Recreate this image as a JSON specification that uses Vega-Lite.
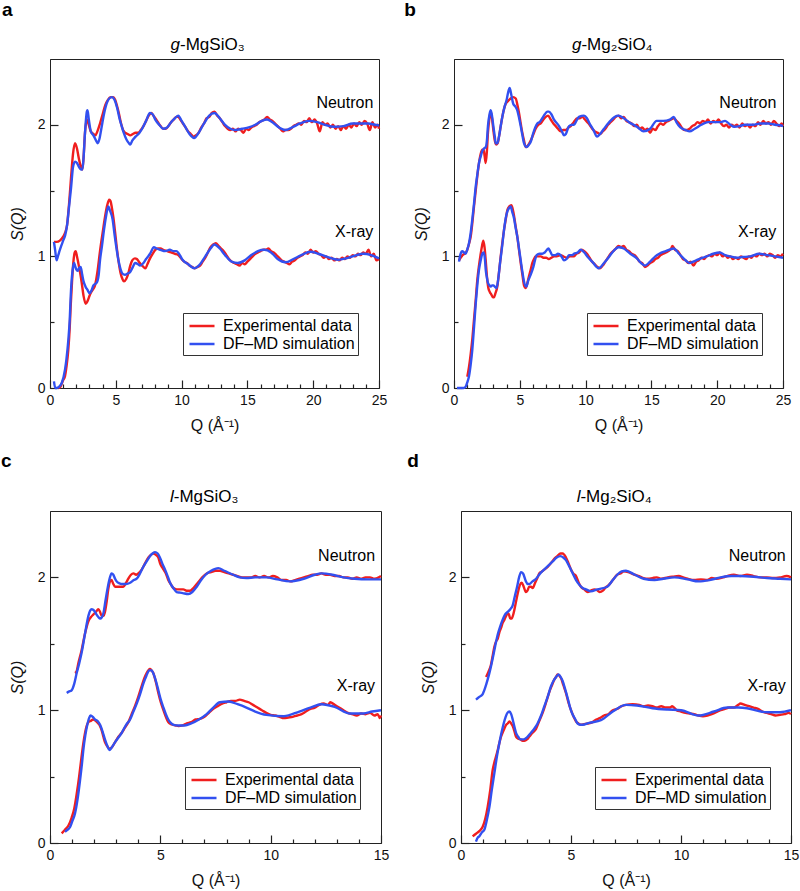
{
"$schema":"https://vega.github.io/schema/vega-lite/v6.json",
"padding":{"left":0,"top":0,"right":0,"bottom":0},
"config":{"font":"Liberation Sans","view":{"stroke":"#222","strokeWidth":1},
"legend":{"symbolType":"M-1.5,0H1.5","symbolSize":278,"symbolStrokeWidth":2.5,"symbolOffset":6,"labelFontSize":16,"labelFont":"Liberation Sans","strokeColor":"#333","fillColor":"white","padding":3,"rowPadding":0,"labelOffset":11,"labelLimit":300,"cornerRadius":0},
"axis":{"labelFont":"Liberation Sans","titleFont":"Liberation Sans","labelColor":"#111","titleColor":"#111","domainColor":"#222","tickColor":"#222","tickWidth":1.2,"grid":false}},
"datasets":{
"aNE":[{"q":0.3,"v":1.11},{"q":0.5,"v":1.11},{"q":0.75,"v":1.12},{"q":1.0,"v":1.15},{"q":1.15,"v":1.18},{"q":1.3,"v":1.24},{"q":1.45,"v":1.4},{"q":1.6,"v":1.6},{"q":1.75,"v":1.78},{"q":1.9,"v":1.86},{"q":2.05,"v":1.82},{"q":2.2,"v":1.74},{"q":2.35,"v":1.68},{"q":2.46,"v":1.66},{"q":2.55,"v":1.75},{"q":2.66,"v":1.94},{"q":2.8,"v":2.04},{"q":2.95,"v":2.0},{"q":3.1,"v":1.95},{"q":3.3,"v":1.93},{"q":3.45,"v":1.92},{"q":3.6,"v":1.95},{"q":3.8,"v":2.01},{"q":4.0,"v":2.08},{"q":4.2,"v":2.15},{"q":4.4,"v":2.19},{"q":4.6,"v":2.21},{"q":4.8,"v":2.21},{"q":4.95,"v":2.19},{"q":5.1,"v":2.14},{"q":5.25,"v":2.08},{"q":5.4,"v":2.01},{"q":5.55,"v":1.96},{"q":5.7,"v":1.94},{"q":5.9,"v":1.93},{"q":6.1,"v":1.92},{"q":6.3,"v":1.93},{"q":6.5,"v":1.94},{"q":6.7,"v":1.94},{"q":6.9,"v":1.96},{"q":7.1,"v":1.99},{"q":7.3,"v":2.03},{"q":7.5,"v":2.07},{"q":7.7,"v":2.09},{"q":7.85,"v":2.07},{"q":8.0,"v":2.05},{"q":8.2,"v":2.02},{"q":8.4,"v":1.99},{"q":8.6,"v":1.97},{"q":8.8,"v":1.97},{"q":9.0,"v":1.99},{"q":9.2,"v":2.02},{"q":9.4,"v":2.04},{"q":9.6,"v":2.06},{"q":9.75,"v":2.06},{"q":9.9,"v":2.04},{"q":10.1,"v":2.01},{"q":10.3,"v":1.98},{"q":10.5,"v":1.95},{"q":10.7,"v":1.93},{"q":10.9,"v":1.91},{"q":11.1,"v":1.92},{"q":11.3,"v":1.94},{"q":11.5,"v":1.98},{"q":11.7,"v":2.01},{"q":11.9,"v":2.05},{"q":12.1,"v":2.06},{"q":12.3,"v":2.09},{"q":12.5,"v":2.1},{"q":12.7,"v":2.07},{"q":12.9,"v":2.05},{"q":13.1,"v":2.02},{"q":13.3,"v":1.99},{"q":13.5,"v":1.97},{"q":13.7,"v":1.96},{"q":13.9,"v":1.97},{"q":14.1,"v":1.95},{"q":14.3,"v":1.97},{"q":14.5,"v":1.96},{"q":14.7,"v":1.94},{"q":14.9,"v":1.97},{"q":15.1,"v":1.96},{"q":15.3,"v":1.98},{"q":15.5,"v":1.99},{"q":15.7,"v":2.0},{"q":15.9,"v":2.02},{"q":16.1,"v":2.03},{"q":16.3,"v":2.04},{"q":16.5,"v":2.06},{"q":16.7,"v":2.04},{"q":16.9,"v":2.03},{"q":17.1,"v":2.01},{"q":17.3,"v":1.99},{"q":17.5,"v":1.97},{"q":17.7,"v":1.95},{"q":17.9,"v":1.96},{"q":18.1,"v":1.96},{"q":18.3,"v":1.97},{"q":18.5,"v":1.99},{"q":18.7,"v":2.0},{"q":18.9,"v":2.01},{"q":19.1,"v":2.0},{"q":19.3,"v":2.03},{"q":19.5,"v":2.02},{"q":19.7,"v":2.05},{"q":19.9,"v":2.02},{"q":20.1,"v":2.04},{"q":20.3,"v":2.01},{"q":20.5,"v":1.95},{"q":20.7,"v":2.02},{"q":20.9,"v":2.0},{"q":21.1,"v":2.01},{"q":21.3,"v":1.98},{"q":21.5,"v":2.0},{"q":21.7,"v":1.97},{"q":21.9,"v":1.99},{"q":22.1,"v":1.96},{"q":22.3,"v":1.99},{"q":22.5,"v":1.97},{"q":22.7,"v":2.0},{"q":22.9,"v":1.98},{"q":23.1,"v":2.01},{"q":23.3,"v":1.99},{"q":23.5,"v":2.02},{"q":23.7,"v":2.0},{"q":23.9,"v":2.03},{"q":24.1,"v":2.01},{"q":24.3,"v":1.96},{"q":24.5,"v":2.02},{"q":24.7,"v":1.98},{"q":24.9,"v":2.0},{"q":25.0,"v":1.97}],
"aNS":[{"q":0.3,"v":1.11},{"q":0.4,"v":1.04},{"q":0.5,"v":0.97},{"q":0.6,"v":1.0},{"q":0.75,"v":1.05},{"q":1.0,"v":1.12},{"q":1.15,"v":1.16},{"q":1.3,"v":1.24},{"q":1.45,"v":1.38},{"q":1.6,"v":1.52},{"q":1.75,"v":1.68},{"q":1.9,"v":1.72},{"q":2.05,"v":1.71},{"q":2.2,"v":1.68},{"q":2.35,"v":1.66},{"q":2.46,"v":1.66},{"q":2.55,"v":1.75},{"q":2.66,"v":1.94},{"q":2.8,"v":2.1},{"q":2.85,"v":2.11},{"q":2.95,"v":2.04},{"q":3.1,"v":1.95},{"q":3.3,"v":1.92},{"q":3.5,"v":1.88},{"q":3.62,"v":1.86},{"q":3.75,"v":1.89},{"q":3.9,"v":1.97},{"q":4.1,"v":2.08},{"q":4.3,"v":2.16},{"q":4.5,"v":2.2},{"q":4.7,"v":2.21},{"q":4.9,"v":2.19},{"q":5.1,"v":2.13},{"q":5.3,"v":2.04},{"q":5.45,"v":1.99},{"q":5.6,"v":1.94},{"q":5.8,"v":1.89},{"q":6.0,"v":1.86},{"q":6.1,"v":1.85},{"q":6.25,"v":1.88},{"q":6.5,"v":1.91},{"q":6.8,"v":1.94},{"q":7.0,"v":1.97},{"q":7.3,"v":2.03},{"q":7.6,"v":2.09},{"q":7.8,"v":2.08},{"q":8.0,"v":2.04},{"q":8.3,"v":2.0},{"q":8.6,"v":1.97},{"q":8.9,"v":1.98},{"q":9.2,"v":2.02},{"q":9.5,"v":2.05},{"q":9.75,"v":2.07},{"q":10.0,"v":2.03},{"q":10.3,"v":1.98},{"q":10.6,"v":1.93},{"q":10.95,"v":1.9},{"q":11.3,"v":1.94},{"q":11.7,"v":2.01},{"q":12.1,"v":2.07},{"q":12.5,"v":2.09},{"q":12.9,"v":2.05},{"q":13.3,"v":2.0},{"q":13.7,"v":1.97},{"q":14.1,"v":1.96},{"q":14.6,"v":1.97},{"q":15.1,"v":1.98},{"q":15.6,"v":2.0},{"q":16.1,"v":2.03},{"q":16.5,"v":2.04},{"q":16.9,"v":2.02},{"q":17.4,"v":1.98},{"q":17.9,"v":1.96},{"q":18.4,"v":1.98},{"q":19.0,"v":2.01},{"q":19.7,"v":2.03},{"q":20.3,"v":2.02},{"q":20.9,"v":2.0},{"q":21.6,"v":1.985},{"q":22.3,"v":1.99},{"q":23.0,"v":2.01},{"q":23.6,"v":2.01},{"q":24.2,"v":2.01},{"q":24.7,"v":2.0},{"q":25.0,"v":1.995}],
"aXE":[{"q":0.63,"v":0.0},{"q":0.8,"v":0.01},{"q":0.9,"v":0.035},{"q":1.0,"v":0.06},{"q":1.14,"v":0.09},{"q":1.25,"v":0.16},{"q":1.39,"v":0.29},{"q":1.5,"v":0.46},{"q":1.57,"v":0.62},{"q":1.67,"v":0.8},{"q":1.77,"v":0.95},{"q":1.88,"v":1.03},{"q":1.95,"v":1.04},{"q":2.05,"v":1.0},{"q":2.15,"v":0.95},{"q":2.3,"v":0.87},{"q":2.41,"v":0.8},{"q":2.55,"v":0.7},{"q":2.71,"v":0.64},{"q":2.85,"v":0.66},{"q":3.04,"v":0.71},{"q":3.2,"v":0.74},{"q":3.42,"v":0.78},{"q":3.6,"v":0.88},{"q":3.8,"v":1.04},{"q":4.0,"v":1.18},{"q":4.18,"v":1.3},{"q":4.35,"v":1.39},{"q":4.5,"v":1.43},{"q":4.6,"v":1.42},{"q":4.7,"v":1.37},{"q":4.81,"v":1.3},{"q":4.95,"v":1.18},{"q":5.07,"v":1.07},{"q":5.2,"v":0.97},{"q":5.37,"v":0.87},{"q":5.5,"v":0.83},{"q":5.62,"v":0.81},{"q":5.8,"v":0.83},{"q":5.95,"v":0.87},{"q":6.1,"v":0.93},{"q":6.25,"v":0.97},{"q":6.45,"v":0.985},{"q":6.6,"v":0.98},{"q":6.75,"v":0.96},{"q":6.9,"v":0.94},{"q":7.1,"v":0.92},{"q":7.25,"v":0.91},{"q":7.4,"v":0.94},{"q":7.6,"v":0.985},{"q":7.8,"v":1.02},{"q":8.0,"v":1.05},{"q":8.2,"v":1.06},{"q":8.4,"v":1.06},{"q":8.6,"v":1.05},{"q":8.9,"v":1.04},{"q":9.2,"v":1.03},{"q":9.5,"v":1.02},{"q":9.75,"v":1.01},{"q":10.0,"v":0.98},{"q":10.2,"v":0.96},{"q":10.4,"v":0.95},{"q":10.6,"v":0.93},{"q":10.8,"v":0.92},{"q":11.0,"v":0.91},{"q":11.2,"v":0.92},{"q":11.4,"v":0.93},{"q":11.6,"v":0.96},{"q":11.8,"v":0.99},{"q":12.0,"v":1.03},{"q":12.2,"v":1.07},{"q":12.4,"v":1.09},{"q":12.6,"v":1.1},{"q":12.8,"v":1.08},{"q":13.0,"v":1.06},{"q":13.2,"v":1.04},{"q":13.4,"v":1.01},{"q":13.6,"v":0.98},{"q":13.8,"v":0.96},{"q":14.0,"v":0.95},{"q":14.2,"v":0.94},{"q":14.4,"v":0.93},{"q":14.6,"v":0.95},{"q":14.8,"v":0.94},{"q":15.0,"v":0.96},{"q":15.2,"v":0.98},{"q":15.4,"v":1.0},{"q":15.6,"v":1.02},{"q":15.8,"v":1.03},{"q":16.0,"v":1.04},{"q":16.2,"v":1.05},{"q":16.4,"v":1.05},{"q":16.6,"v":1.06},{"q":16.8,"v":1.04},{"q":17.0,"v":1.03},{"q":17.2,"v":1.01},{"q":17.4,"v":0.99},{"q":17.6,"v":0.97},{"q":17.8,"v":0.96},{"q":18.0,"v":0.95},{"q":18.2,"v":0.94},{"q":18.4,"v":0.96},{"q":18.6,"v":0.97},{"q":18.8,"v":0.99},{"q":19.0,"v":1.0},{"q":19.2,"v":1.01},{"q":19.4,"v":1.03},{"q":19.6,"v":1.02},{"q":19.8,"v":1.05},{"q":20.0,"v":1.03},{"q":20.2,"v":1.04},{"q":20.4,"v":1.02},{"q":20.6,"v":1.01},{"q":20.8,"v":0.99},{"q":21.0,"v":1.0},{"q":21.2,"v":0.98},{"q":21.4,"v":0.99},{"q":21.6,"v":0.97},{"q":21.8,"v":0.98},{"q":22.0,"v":0.97},{"q":22.2,"v":0.99},{"q":22.4,"v":0.98},{"q":22.6,"v":1.0},{"q":22.8,"v":0.99},{"q":23.0,"v":1.01},{"q":23.2,"v":1.0},{"q":23.4,"v":1.02},{"q":23.6,"v":1.01},{"q":23.8,"v":1.03},{"q":24.0,"v":1.02},{"q":24.2,"v":1.05},{"q":24.4,"v":1.0},{"q":24.6,"v":1.02},{"q":24.8,"v":0.97},{"q":25.0,"v":0.98}],
"aXS":[{"q":0.3,"v":0.05},{"q":0.4,"v":0.0},{"q":0.5,"v":0.0},{"q":0.7,"v":0.01},{"q":0.9,"v":0.04},{"q":1.14,"v":0.14},{"q":1.25,"v":0.22},{"q":1.39,"v":0.36},{"q":1.5,"v":0.52},{"q":1.57,"v":0.69},{"q":1.67,"v":0.85},{"q":1.77,"v":0.93},{"q":1.83,"v":0.95},{"q":1.9,"v":0.93},{"q":2.0,"v":0.9},{"q":2.1,"v":0.89},{"q":2.2,"v":0.91},{"q":2.33,"v":0.92},{"q":2.45,"v":0.86},{"q":2.55,"v":0.81},{"q":2.7,"v":0.77},{"q":2.85,"v":0.745},{"q":3.0,"v":0.72},{"q":3.15,"v":0.74},{"q":3.3,"v":0.78},{"q":3.55,"v":0.8},{"q":3.7,"v":0.86},{"q":3.8,"v":0.97},{"q":3.95,"v":1.08},{"q":4.1,"v":1.2},{"q":4.25,"v":1.3},{"q":4.43,"v":1.38},{"q":4.55,"v":1.35},{"q":4.76,"v":1.28},{"q":4.9,"v":1.17},{"q":5.07,"v":1.05},{"q":5.2,"v":0.97},{"q":5.37,"v":0.9},{"q":5.5,"v":0.87},{"q":5.7,"v":0.86},{"q":5.9,"v":0.87},{"q":6.08,"v":0.88},{"q":6.3,"v":0.92},{"q":6.46,"v":0.95},{"q":6.7,"v":0.94},{"q":6.84,"v":0.93},{"q":7.1,"v":0.95},{"q":7.3,"v":0.98},{"q":7.6,"v":1.02},{"q":7.9,"v":1.07},{"q":8.1,"v":1.06},{"q":8.4,"v":1.05},{"q":8.75,"v":1.04},{"q":9.1,"v":1.05},{"q":9.4,"v":1.04},{"q":9.6,"v":1.04},{"q":9.8,"v":1.02},{"q":10.1,"v":0.97},{"q":10.5,"v":0.94},{"q":10.97,"v":0.91},{"q":11.4,"v":0.94},{"q":11.8,"v":1.0},{"q":12.2,"v":1.06},{"q":12.49,"v":1.09},{"q":12.9,"v":1.06},{"q":13.3,"v":1.01},{"q":13.8,"v":0.96},{"q":14.26,"v":0.95},{"q":14.8,"v":0.97},{"q":15.3,"v":1.01},{"q":15.8,"v":1.04},{"q":16.3,"v":1.05},{"q":16.8,"v":1.03},{"q":17.3,"v":0.98},{"q":17.9,"v":0.955},{"q":18.5,"v":0.98},{"q":19.1,"v":1.01},{"q":19.8,"v":1.035},{"q":20.4,"v":1.02},{"q":21.1,"v":0.995},{"q":21.9,"v":0.975},{"q":22.7,"v":0.99},{"q":23.3,"v":1.01},{"q":23.8,"v":1.02},{"q":24.4,"v":1.01},{"q":25.0,"v":0.985}],
"bNE":[{"q":0.38,"v":0.97},{"q":0.5,"v":0.99},{"q":0.65,"v":1.01},{"q":0.8,"v":1.02},{"q":1.01,"v":1.05},{"q":1.15,"v":1.1},{"q":1.27,"v":1.15},{"q":1.4,"v":1.26},{"q":1.52,"v":1.38},{"q":1.65,"v":1.5},{"q":1.77,"v":1.61},{"q":1.9,"v":1.71},{"q":2.03,"v":1.78},{"q":2.15,"v":1.81},{"q":2.25,"v":1.81},{"q":2.33,"v":1.76},{"q":2.41,"v":1.71},{"q":2.5,"v":1.8},{"q":2.58,"v":1.94},{"q":2.68,"v":2.04},{"q":2.79,"v":2.1},{"q":2.9,"v":2.04},{"q":2.99,"v":1.96},{"q":3.1,"v":1.88},{"q":3.2,"v":1.85},{"q":3.32,"v":1.86},{"q":3.42,"v":1.91},{"q":3.55,"v":1.99},{"q":3.67,"v":2.06},{"q":3.8,"v":2.12},{"q":3.93,"v":2.16},{"q":4.1,"v":2.18},{"q":4.3,"v":2.2},{"q":4.5,"v":2.21},{"q":4.69,"v":2.2},{"q":4.82,"v":2.15},{"q":4.94,"v":2.09},{"q":5.07,"v":2.01},{"q":5.19,"v":1.94},{"q":5.32,"v":1.88},{"q":5.45,"v":1.83},{"q":5.6,"v":1.84},{"q":5.83,"v":1.88},{"q":6.0,"v":1.92},{"q":6.2,"v":1.97},{"q":6.4,"v":2.0},{"q":6.59,"v":2.01},{"q":6.8,"v":2.04},{"q":6.97,"v":2.06},{"q":7.15,"v":2.07},{"q":7.35,"v":2.04},{"q":7.55,"v":2.01},{"q":7.73,"v":1.99},{"q":7.9,"v":1.97},{"q":8.1,"v":1.95},{"q":8.3,"v":1.96},{"q":8.49,"v":1.96},{"q":8.7,"v":1.98},{"q":8.87,"v":1.99},{"q":9.1,"v":2.02},{"q":9.37,"v":2.05},{"q":9.55,"v":2.05},{"q":9.75,"v":2.06},{"q":9.95,"v":2.04},{"q":10.13,"v":2.02},{"q":10.3,"v":2.0},{"q":10.5,"v":1.97},{"q":10.7,"v":1.95},{"q":10.9,"v":1.94},{"q":11.1,"v":1.93},{"q":11.3,"v":1.95},{"q":11.5,"v":1.97},{"q":11.7,"v":2.0},{"q":11.9,"v":2.02},{"q":12.1,"v":2.04},{"q":12.3,"v":2.06},{"q":12.5,"v":2.07},{"q":12.7,"v":2.05},{"q":12.9,"v":2.06},{"q":13.1,"v":2.03},{"q":13.3,"v":2.02},{"q":13.5,"v":2.01},{"q":13.7,"v":1.99},{"q":13.9,"v":2.0},{"q":14.1,"v":1.97},{"q":14.3,"v":1.98},{"q":14.5,"v":1.96},{"q":14.7,"v":1.97},{"q":14.9,"v":1.94},{"q":15.1,"v":1.97},{"q":15.3,"v":1.96},{"q":15.5,"v":1.99},{"q":15.7,"v":2.01},{"q":15.9,"v":2.0},{"q":16.1,"v":2.02},{"q":16.3,"v":2.03},{"q":16.5,"v":2.04},{"q":16.7,"v":2.05},{"q":16.9,"v":2.03},{"q":17.1,"v":2.01},{"q":17.3,"v":1.98},{"q":17.5,"v":1.96},{"q":17.7,"v":1.96},{"q":17.9,"v":1.97},{"q":18.1,"v":1.99},{"q":18.3,"v":2.0},{"q":18.5,"v":2.02},{"q":18.7,"v":2.01},{"q":18.9,"v":2.03},{"q":19.1,"v":2.02},{"q":19.3,"v":2.04},{"q":19.5,"v":2.01},{"q":19.7,"v":2.03},{"q":19.9,"v":2.02},{"q":20.1,"v":2.04},{"q":20.3,"v":2.01},{"q":20.5,"v":1.99},{"q":20.7,"v":2.0},{"q":20.9,"v":1.98},{"q":21.1,"v":2.0},{"q":21.3,"v":1.99},{"q":21.5,"v":2.0},{"q":21.7,"v":1.98},{"q":21.9,"v":2.01},{"q":22.1,"v":1.99},{"q":22.3,"v":2.0},{"q":22.5,"v":1.98},{"q":22.7,"v":2.0},{"q":22.9,"v":1.99},{"q":23.1,"v":2.02},{"q":23.3,"v":2.0},{"q":23.5,"v":2.03},{"q":23.7,"v":2.01},{"q":23.9,"v":2.02},{"q":24.1,"v":2.0},{"q":24.3,"v":2.03},{"q":24.5,"v":2.01},{"q":24.7,"v":1.99},{"q":24.9,"v":2.01},{"q":25.0,"v":1.99}],
"bNS":[{"q":0.38,"v":0.96},{"q":0.5,"v":1.02},{"q":0.63,"v":1.04},{"q":0.76,"v":1.03},{"q":0.89,"v":1.02},{"q":1.0,"v":1.05},{"q":1.14,"v":1.1},{"q":1.27,"v":1.18},{"q":1.39,"v":1.28},{"q":1.52,"v":1.4},{"q":1.65,"v":1.53},{"q":1.77,"v":1.62},{"q":1.9,"v":1.71},{"q":2.03,"v":1.76},{"q":2.15,"v":1.8},{"q":2.28,"v":1.82},{"q":2.41,"v":1.83},{"q":2.5,"v":1.88},{"q":2.58,"v":1.99},{"q":2.7,"v":2.08},{"q":2.79,"v":2.11},{"q":2.9,"v":2.06},{"q":2.99,"v":1.99},{"q":3.1,"v":1.91},{"q":3.17,"v":1.86},{"q":3.3,"v":1.86},{"q":3.42,"v":1.91},{"q":3.55,"v":1.99},{"q":3.67,"v":2.06},{"q":3.85,"v":2.14},{"q":4.0,"v":2.19},{"q":4.1,"v":2.24},{"q":4.23,"v":2.28},{"q":4.35,"v":2.23},{"q":4.5,"v":2.16},{"q":4.65,"v":2.14},{"q":4.81,"v":2.11},{"q":4.95,"v":2.05},{"q":5.07,"v":1.99},{"q":5.2,"v":1.92},{"q":5.32,"v":1.86},{"q":5.52,"v":1.83},{"q":5.7,"v":1.85},{"q":5.83,"v":1.87},{"q":6.0,"v":1.93},{"q":6.33,"v":2.01},{"q":6.5,"v":2.02},{"q":6.71,"v":2.05},{"q":6.9,"v":2.08},{"q":7.1,"v":2.1},{"q":7.22,"v":2.1},{"q":7.4,"v":2.08},{"q":7.6,"v":2.04},{"q":7.98,"v":1.99},{"q":8.2,"v":1.95},{"q":8.36,"v":1.92},{"q":8.5,"v":1.93},{"q":8.74,"v":1.99},{"q":9.0,"v":2.0},{"q":9.12,"v":2.0},{"q":9.3,"v":2.03},{"q":9.5,"v":2.06},{"q":9.88,"v":2.07},{"q":10.1,"v":2.05},{"q":10.3,"v":2.01},{"q":10.6,"v":1.96},{"q":10.87,"v":1.91},{"q":11.1,"v":1.93},{"q":11.4,"v":1.97},{"q":11.8,"v":2.02},{"q":12.2,"v":2.06},{"q":12.5,"v":2.07},{"q":12.9,"v":2.05},{"q":13.3,"v":2.02},{"q":13.9,"v":1.985},{"q":14.4,"v":1.95},{"q":14.9,"v":1.97},{"q":15.4,"v":2.03},{"q":15.9,"v":2.03},{"q":16.4,"v":2.04},{"q":16.7,"v":2.06},{"q":16.9,"v":2.02},{"q":17.2,"v":1.98},{"q":17.6,"v":1.96},{"q":17.9,"v":1.95},{"q":18.3,"v":1.97},{"q":18.8,"v":2.0},{"q":19.3,"v":2.02},{"q":19.7,"v":2.02},{"q":20.2,"v":2.02},{"q":20.6,"v":2.03},{"q":21.0,"v":2.0},{"q":21.3,"v":1.985},{"q":21.7,"v":1.99},{"q":22.1,"v":2.0},{"q":22.7,"v":2.0},{"q":23.3,"v":2.01},{"q":23.9,"v":2.01},{"q":24.4,"v":2.0},{"q":24.85,"v":1.995},{"q":25.0,"v":1.99}],
"bXE":[{"q":1.01,"v":0.086},{"q":1.14,"v":0.16},{"q":1.27,"v":0.26},{"q":1.4,"v":0.38},{"q":1.52,"v":0.52},{"q":1.65,"v":0.67},{"q":1.77,"v":0.82},{"q":1.9,"v":0.93},{"q":2.03,"v":1.02},{"q":2.13,"v":1.08},{"q":2.23,"v":1.12},{"q":2.32,"v":1.07},{"q":2.41,"v":0.97},{"q":2.5,"v":0.85},{"q":2.61,"v":0.76},{"q":2.72,"v":0.73},{"q":2.84,"v":0.71},{"q":2.95,"v":0.69},{"q":3.04,"v":0.69},{"q":3.15,"v":0.72},{"q":3.29,"v":0.77},{"q":3.42,"v":0.88},{"q":3.55,"v":1.0},{"q":3.67,"v":1.1},{"q":3.8,"v":1.2},{"q":3.93,"v":1.28},{"q":4.05,"v":1.35},{"q":4.2,"v":1.38},{"q":4.36,"v":1.39},{"q":4.46,"v":1.36},{"q":4.56,"v":1.31},{"q":4.68,"v":1.23},{"q":4.81,"v":1.15},{"q":4.94,"v":1.05},{"q":5.07,"v":0.95},{"q":5.2,"v":0.86},{"q":5.32,"v":0.78},{"q":5.45,"v":0.76},{"q":5.58,"v":0.8},{"q":5.7,"v":0.85},{"q":5.83,"v":0.9},{"q":5.95,"v":0.95},{"q":6.08,"v":0.98},{"q":6.2,"v":1.0},{"q":6.4,"v":1.0},{"q":6.59,"v":1.0},{"q":6.8,"v":0.99},{"q":7.0,"v":0.99},{"q":7.2,"v":0.98},{"q":7.4,"v":0.99},{"q":7.6,"v":1.0},{"q":7.8,"v":1.0},{"q":8.1,"v":1.01},{"q":8.3,"v":1.0},{"q":8.6,"v":0.99},{"q":8.8,"v":1.0},{"q":9.1,"v":1.0},{"q":9.3,"v":1.02},{"q":9.5,"v":1.03},{"q":9.7,"v":1.05},{"q":9.9,"v":1.04},{"q":10.1,"v":1.02},{"q":10.3,"v":0.99},{"q":10.5,"v":0.96},{"q":10.7,"v":0.94},{"q":10.9,"v":0.92},{"q":11.1,"v":0.91},{"q":11.3,"v":0.93},{"q":11.5,"v":0.96},{"q":11.7,"v":0.99},{"q":11.9,"v":1.02},{"q":12.1,"v":1.04},{"q":12.3,"v":1.06},{"q":12.5,"v":1.08},{"q":12.7,"v":1.07},{"q":12.9,"v":1.08},{"q":13.1,"v":1.05},{"q":13.3,"v":1.04},{"q":13.5,"v":1.02},{"q":13.7,"v":1.01},{"q":13.9,"v":0.99},{"q":14.1,"v":0.96},{"q":14.3,"v":0.95},{"q":14.5,"v":0.92},{"q":14.7,"v":0.93},{"q":14.9,"v":0.95},{"q":15.1,"v":0.96},{"q":15.3,"v":0.98},{"q":15.5,"v":0.99},{"q":15.7,"v":1.01},{"q":15.9,"v":1.02},{"q":16.1,"v":1.03},{"q":16.3,"v":1.04},{"q":16.5,"v":1.06},{"q":16.6,"v":1.08},{"q":16.8,"v":1.05},{"q":17.0,"v":1.04},{"q":17.2,"v":1.01},{"q":17.4,"v":0.98},{"q":17.6,"v":0.97},{"q":17.8,"v":0.95},{"q":18.0,"v":0.96},{"q":18.2,"v":0.93},{"q":18.4,"v":0.96},{"q":18.6,"v":0.97},{"q":18.8,"v":0.99},{"q":19.0,"v":0.98},{"q":19.2,"v":1.0},{"q":19.4,"v":1.01},{"q":19.6,"v":1.0},{"q":19.8,"v":1.02},{"q":20.0,"v":1.01},{"q":20.2,"v":1.03},{"q":20.4,"v":1.0},{"q":20.6,"v":1.01},{"q":20.8,"v":0.99},{"q":21.0,"v":1.0},{"q":21.2,"v":0.98},{"q":21.4,"v":0.99},{"q":21.6,"v":0.98},{"q":21.8,"v":1.0},{"q":22.0,"v":0.99},{"q":22.2,"v":0.98},{"q":22.4,"v":1.0},{"q":22.6,"v":0.99},{"q":22.8,"v":1.01},{"q":23.0,"v":1.0},{"q":23.2,"v":1.02},{"q":23.4,"v":1.01},{"q":23.6,"v":1.02},{"q":23.8,"v":1.0},{"q":24.0,"v":1.02},{"q":24.2,"v":1.01},{"q":24.4,"v":0.99},{"q":24.6,"v":1.01},{"q":24.8,"v":1.0},{"q":25.0,"v":1.02}],
"bXS":[{"q":0.23,"v":0.0},{"q":0.5,"v":0.0},{"q":0.75,"v":0.0},{"q":0.89,"v":0.01},{"q":1.0,"v":0.04},{"q":1.14,"v":0.09},{"q":1.27,"v":0.18},{"q":1.39,"v":0.29},{"q":1.52,"v":0.46},{"q":1.65,"v":0.64},{"q":1.77,"v":0.78},{"q":1.9,"v":0.9},{"q":2.03,"v":0.97},{"q":2.15,"v":1.02},{"q":2.25,"v":1.03},{"q":2.35,"v":0.98},{"q":2.41,"v":0.9},{"q":2.5,"v":0.84},{"q":2.58,"v":0.8},{"q":2.7,"v":0.78},{"q":2.79,"v":0.77},{"q":2.9,"v":0.78},{"q":2.99,"v":0.78},{"q":3.1,"v":0.77},{"q":3.24,"v":0.76},{"q":3.35,"v":0.82},{"q":3.5,"v":0.95},{"q":3.65,"v":1.07},{"q":3.8,"v":1.2},{"q":3.93,"v":1.29},{"q":4.05,"v":1.34},{"q":4.2,"v":1.37},{"q":4.31,"v":1.38},{"q":4.42,"v":1.34},{"q":4.56,"v":1.29},{"q":4.68,"v":1.22},{"q":4.81,"v":1.15},{"q":4.94,"v":1.06},{"q":5.07,"v":0.97},{"q":5.2,"v":0.88},{"q":5.32,"v":0.81},{"q":5.5,"v":0.77},{"q":5.65,"v":0.82},{"q":5.78,"v":0.85},{"q":5.9,"v":0.88},{"q":6.03,"v":0.92},{"q":6.15,"v":0.97},{"q":6.28,"v":1.01},{"q":6.5,"v":1.02},{"q":6.71,"v":1.02},{"q":6.9,"v":1.03},{"q":7.17,"v":1.06},{"q":7.3,"v":1.04},{"q":7.47,"v":1.01},{"q":7.7,"v":1.01},{"q":7.9,"v":1.02},{"q":8.1,"v":1.01},{"q":8.36,"v":0.97},{"q":8.55,"v":0.98},{"q":8.74,"v":1.01},{"q":9.0,"v":1.01},{"q":9.12,"v":1.02},{"q":9.4,"v":1.03},{"q":9.62,"v":1.05},{"q":9.9,"v":1.03},{"q":10.13,"v":1.0},{"q":10.5,"v":0.96},{"q":11.0,"v":0.91},{"q":11.4,"v":0.95},{"q":11.8,"v":1.0},{"q":12.2,"v":1.05},{"q":12.5,"v":1.07},{"q":12.9,"v":1.06},{"q":13.4,"v":1.02},{"q":13.9,"v":0.985},{"q":14.2,"v":0.95},{"q":14.5,"v":0.93},{"q":14.9,"v":0.96},{"q":15.3,"v":1.0},{"q":15.6,"v":1.02},{"q":16.1,"v":1.04},{"q":16.7,"v":1.06},{"q":17.1,"v":1.02},{"q":17.5,"v":0.98},{"q":17.9,"v":0.95},{"q":18.4,"v":0.97},{"q":18.9,"v":0.99},{"q":19.2,"v":1.0},{"q":19.7,"v":1.02},{"q":20.2,"v":1.03},{"q":20.6,"v":1.01},{"q":21.0,"v":1.0},{"q":21.5,"v":0.99},{"q":21.9,"v":0.995},{"q":22.5,"v":1.0},{"q":23.2,"v":1.02},{"q":23.8,"v":1.01},{"q":24.4,"v":1.0},{"q":25.0,"v":0.99}],
"cNE":[{"q":1.13,"v":1.28},{"q":1.2,"v":1.29},{"q":1.28,"v":1.35},{"q":1.43,"v":1.45},{"q":1.59,"v":1.58},{"q":1.74,"v":1.67},{"q":1.85,"v":1.7},{"q":1.96,"v":1.72},{"q":2.08,"v":1.74},{"q":2.19,"v":1.76},{"q":2.27,"v":1.74},{"q":2.34,"v":1.71},{"q":2.42,"v":1.71},{"q":2.49,"v":1.74},{"q":2.57,"v":1.82},{"q":2.64,"v":1.91},{"q":2.72,"v":1.97},{"q":2.79,"v":1.98},{"q":2.87,"v":1.95},{"q":2.95,"v":1.93},{"q":3.06,"v":1.93},{"q":3.17,"v":1.93},{"q":3.32,"v":1.93},{"q":3.45,"v":1.96},{"q":3.55,"v":1.99},{"q":3.67,"v":2.02},{"q":3.78,"v":2.03},{"q":3.9,"v":2.02},{"q":4.0,"v":2.03},{"q":4.12,"v":2.05},{"q":4.23,"v":2.08},{"q":4.35,"v":2.12},{"q":4.46,"v":2.15},{"q":4.57,"v":2.17},{"q":4.68,"v":2.18},{"q":4.8,"v":2.17},{"q":4.91,"v":2.15},{"q":5.0,"v":2.1},{"q":5.07,"v":2.08},{"q":5.14,"v":2.06},{"q":5.25,"v":2.03},{"q":5.36,"v":1.98},{"q":5.47,"v":1.95},{"q":5.59,"v":1.92},{"q":5.74,"v":1.91},{"q":5.89,"v":1.91},{"q":6.04,"v":1.91},{"q":6.19,"v":1.9},{"q":6.35,"v":1.9},{"q":6.5,"v":1.92},{"q":6.7,"v":1.96},{"q":6.9,"v":2.0},{"q":7.1,"v":2.03},{"q":7.3,"v":2.04},{"q":7.5,"v":2.05},{"q":7.7,"v":2.05},{"q":7.9,"v":2.04},{"q":8.1,"v":2.03},{"q":8.3,"v":2.02},{"q":8.5,"v":2.01},{"q":8.7,"v":2.0},{"q":8.9,"v":2.0},{"q":9.1,"v":2.0},{"q":9.3,"v":2.01},{"q":9.5,"v":2.0},{"q":9.7,"v":2.01},{"q":9.9,"v":2.0},{"q":10.1,"v":2.01},{"q":10.3,"v":2.0},{"q":10.5,"v":1.98},{"q":10.7,"v":1.98},{"q":10.9,"v":1.97},{"q":11.1,"v":1.98},{"q":11.3,"v":1.99},{"q":11.5,"v":2.0},{"q":11.7,"v":2.01},{"q":11.9,"v":2.02},{"q":12.1,"v":2.02},{"q":12.3,"v":2.03},{"q":12.5,"v":2.02},{"q":12.7,"v":2.02},{"q":12.9,"v":2.01},{"q":13.1,"v":2.01},{"q":13.3,"v":2.0},{"q":13.5,"v":2.0},{"q":13.7,"v":1.99},{"q":13.9,"v":2.0},{"q":14.1,"v":1.99},{"q":14.3,"v":2.0},{"q":14.5,"v":2.0},{"q":14.7,"v":1.99},{"q":14.9,"v":2.0},{"q":15.0,"v":2.01}],
"cNS":[{"q":0.76,"v":1.13},{"q":0.85,"v":1.14},{"q":0.98,"v":1.15},{"q":1.1,"v":1.2},{"q":1.21,"v":1.28},{"q":1.32,"v":1.35},{"q":1.43,"v":1.43},{"q":1.59,"v":1.58},{"q":1.74,"v":1.71},{"q":1.82,"v":1.75},{"q":1.89,"v":1.76},{"q":2.0,"v":1.75},{"q":2.11,"v":1.72},{"q":2.2,"v":1.7},{"q":2.27,"v":1.69},{"q":2.35,"v":1.7},{"q":2.42,"v":1.73},{"q":2.51,"v":1.82},{"q":2.6,"v":1.91},{"q":2.7,"v":1.99},{"q":2.79,"v":2.03},{"q":2.87,"v":2.02},{"q":2.95,"v":1.99},{"q":3.02,"v":1.97},{"q":3.15,"v":1.955},{"q":3.25,"v":1.95},{"q":3.45,"v":1.95},{"q":3.63,"v":1.96},{"q":3.8,"v":1.98},{"q":3.93,"v":1.99},{"q":4.08,"v":2.03},{"q":4.23,"v":2.08},{"q":4.38,"v":2.12},{"q":4.53,"v":2.16},{"q":4.65,"v":2.18},{"q":4.76,"v":2.19},{"q":4.88,"v":2.18},{"q":4.98,"v":2.15},{"q":5.1,"v":2.1},{"q":5.21,"v":2.06},{"q":5.33,"v":2.01},{"q":5.44,"v":1.96},{"q":5.59,"v":1.92},{"q":5.74,"v":1.89},{"q":5.9,"v":1.885},{"q":6.05,"v":1.88},{"q":6.27,"v":1.875},{"q":6.45,"v":1.89},{"q":6.65,"v":1.93},{"q":6.85,"v":1.98},{"q":7.05,"v":2.02},{"q":7.3,"v":2.05},{"q":7.63,"v":2.07},{"q":7.9,"v":2.05},{"q":8.3,"v":2.02},{"q":8.6,"v":2.0},{"q":8.9,"v":1.995},{"q":9.3,"v":2.0},{"q":9.8,"v":2.0},{"q":10.3,"v":1.985},{"q":10.87,"v":1.97},{"q":11.5,"v":1.99},{"q":12.0,"v":2.02},{"q":12.3,"v":2.03},{"q":12.8,"v":2.02},{"q":13.3,"v":2.0},{"q":13.8,"v":1.99},{"q":14.4,"v":1.985},{"q":15.0,"v":1.985}],
"cXE":[{"q":0.53,"v":0.073},{"q":0.68,"v":0.1},{"q":0.83,"v":0.13},{"q":0.98,"v":0.19},{"q":1.1,"v":0.26},{"q":1.21,"v":0.37},{"q":1.32,"v":0.5},{"q":1.43,"v":0.65},{"q":1.51,"v":0.75},{"q":1.59,"v":0.83},{"q":1.66,"v":0.88},{"q":1.74,"v":0.91},{"q":1.85,"v":0.92},{"q":1.96,"v":0.93},{"q":2.07,"v":0.92},{"q":2.19,"v":0.9},{"q":2.27,"v":0.88},{"q":2.34,"v":0.85},{"q":2.42,"v":0.8},{"q":2.49,"v":0.76},{"q":2.59,"v":0.73},{"q":2.69,"v":0.71},{"q":2.8,"v":0.72},{"q":2.95,"v":0.76},{"q":3.1,"v":0.8},{"q":3.25,"v":0.83},{"q":3.4,"v":0.87},{"q":3.55,"v":0.91},{"q":3.7,"v":0.97},{"q":3.85,"v":1.03},{"q":4.0,"v":1.1},{"q":4.15,"v":1.18},{"q":4.27,"v":1.24},{"q":4.38,"v":1.28},{"q":4.46,"v":1.3},{"q":4.53,"v":1.31},{"q":4.6,"v":1.3},{"q":4.68,"v":1.28},{"q":4.8,"v":1.21},{"q":4.91,"v":1.13},{"q":5.02,"v":1.06},{"q":5.14,"v":1.0},{"q":5.25,"v":0.95},{"q":5.36,"v":0.91},{"q":5.48,"v":0.895},{"q":5.59,"v":0.89},{"q":5.7,"v":0.885},{"q":5.82,"v":0.88},{"q":6.0,"v":0.885},{"q":6.2,"v":0.9},{"q":6.4,"v":0.91},{"q":6.6,"v":0.93},{"q":6.8,"v":0.935},{"q":7.0,"v":0.95},{"q":7.2,"v":0.98},{"q":7.4,"v":1.01},{"q":7.6,"v":1.03},{"q":7.8,"v":1.05},{"q":8.0,"v":1.06},{"q":8.2,"v":1.07},{"q":8.4,"v":1.07},{"q":8.6,"v":1.08},{"q":8.8,"v":1.07},{"q":9.0,"v":1.06},{"q":9.2,"v":1.04},{"q":9.4,"v":1.02},{"q":9.6,"v":1.0},{"q":9.8,"v":0.98},{"q":10.0,"v":0.965},{"q":10.2,"v":0.96},{"q":10.4,"v":0.95},{"q":10.6,"v":0.94},{"q":10.8,"v":0.945},{"q":11.0,"v":0.95},{"q":11.2,"v":0.96},{"q":11.4,"v":0.97},{"q":11.6,"v":0.99},{"q":11.8,"v":1.01},{"q":12.0,"v":1.02},{"q":12.2,"v":1.04},{"q":12.4,"v":1.05},{"q":12.6,"v":1.04},{"q":12.7,"v":1.06},{"q":12.9,"v":1.04},{"q":13.1,"v":1.02},{"q":13.3,"v":1.0},{"q":13.5,"v":0.98},{"q":13.7,"v":0.97},{"q":13.9,"v":0.96},{"q":14.1,"v":0.975},{"q":14.3,"v":0.97},{"q":14.5,"v":0.98},{"q":14.7,"v":0.96},{"q":14.85,"v":0.97},{"q":14.95,"v":0.94},{"q":15.0,"v":0.96}],
"cXS":[{"q":0.68,"v":0.085},{"q":0.8,"v":0.1},{"q":0.91,"v":0.12},{"q":1.0,"v":0.16},{"q":1.13,"v":0.22},{"q":1.25,"v":0.33},{"q":1.36,"v":0.47},{"q":1.45,"v":0.6},{"q":1.51,"v":0.7},{"q":1.6,"v":0.81},{"q":1.69,"v":0.89},{"q":1.77,"v":0.94},{"q":1.84,"v":0.96},{"q":1.94,"v":0.95},{"q":2.04,"v":0.93},{"q":2.15,"v":0.92},{"q":2.27,"v":0.89},{"q":2.38,"v":0.84},{"q":2.49,"v":0.78},{"q":2.6,"v":0.73},{"q":2.69,"v":0.7},{"q":2.8,"v":0.72},{"q":2.95,"v":0.76},{"q":3.25,"v":0.83},{"q":3.45,"v":0.89},{"q":3.63,"v":0.93},{"q":3.78,"v":0.99},{"q":3.93,"v":1.05},{"q":4.08,"v":1.12},{"q":4.23,"v":1.2},{"q":4.37,"v":1.26},{"q":4.5,"v":1.3},{"q":4.6,"v":1.3},{"q":4.7,"v":1.27},{"q":4.8,"v":1.22},{"q":4.91,"v":1.15},{"q":5.02,"v":1.08},{"q":5.14,"v":1.02},{"q":5.25,"v":0.97},{"q":5.36,"v":0.93},{"q":5.5,"v":0.9},{"q":5.6,"v":0.89},{"q":5.82,"v":0.885},{"q":6.1,"v":0.885},{"q":6.4,"v":0.9},{"q":6.75,"v":0.93},{"q":7.1,"v":0.97},{"q":7.4,"v":1.02},{"q":7.7,"v":1.06},{"q":8.1,"v":1.065},{"q":8.5,"v":1.045},{"q":8.9,"v":1.02},{"q":9.3,"v":0.99},{"q":9.8,"v":0.965},{"q":10.6,"v":0.955},{"q":11.3,"v":0.99},{"q":11.8,"v":1.02},{"q":12.3,"v":1.045},{"q":12.9,"v":1.025},{"q":13.6,"v":0.975},{"q":14.2,"v":0.975},{"q":14.6,"v":0.99},{"q":15.0,"v":1.0}],
"dNE":[{"q":1.14,"v":1.25},{"q":1.25,"v":1.29},{"q":1.36,"v":1.34},{"q":1.44,"v":1.41},{"q":1.52,"v":1.48},{"q":1.6,"v":1.52},{"q":1.67,"v":1.54},{"q":1.75,"v":1.59},{"q":1.82,"v":1.62},{"q":1.9,"v":1.66},{"q":1.97,"v":1.68},{"q":2.05,"v":1.71},{"q":2.12,"v":1.73},{"q":2.18,"v":1.72},{"q":2.24,"v":1.69},{"q":2.3,"v":1.69},{"q":2.39,"v":1.73},{"q":2.48,"v":1.8},{"q":2.58,"v":1.88},{"q":2.67,"v":1.94},{"q":2.76,"v":1.96},{"q":2.85,"v":1.93},{"q":2.95,"v":1.89},{"q":3.02,"v":1.9},{"q":3.1,"v":1.93},{"q":3.18,"v":1.93},{"q":3.26,"v":1.92},{"q":3.37,"v":1.96},{"q":3.48,"v":2.0},{"q":3.56,"v":2.03},{"q":3.64,"v":2.04},{"q":3.8,"v":2.06},{"q":3.94,"v":2.08},{"q":4.1,"v":2.11},{"q":4.24,"v":2.14},{"q":4.38,"v":2.16},{"q":4.52,"v":2.18},{"q":4.62,"v":2.18},{"q":4.77,"v":2.15},{"q":4.9,"v":2.1},{"q":5.0,"v":2.06},{"q":5.1,"v":2.03},{"q":5.23,"v":2.01},{"q":5.35,"v":1.96},{"q":5.45,"v":1.93},{"q":5.6,"v":1.91},{"q":5.76,"v":1.89},{"q":5.9,"v":1.9},{"q":6.06,"v":1.91},{"q":6.17,"v":1.905},{"q":6.3,"v":1.89},{"q":6.45,"v":1.9},{"q":6.55,"v":1.92},{"q":6.7,"v":1.94},{"q":6.9,"v":1.98},{"q":7.1,"v":2.02},{"q":7.25,"v":2.03},{"q":7.4,"v":2.045},{"q":7.6,"v":2.04},{"q":7.9,"v":2.02},{"q":8.1,"v":2.01},{"q":8.3,"v":1.995},{"q":8.5,"v":1.99},{"q":8.7,"v":1.995},{"q":8.9,"v":2.0},{"q":9.1,"v":1.99},{"q":9.4,"v":2.0},{"q":9.6,"v":2.005},{"q":9.9,"v":2.01},{"q":10.1,"v":2.0},{"q":10.3,"v":1.99},{"q":10.6,"v":1.98},{"q":10.9,"v":1.985},{"q":11.2,"v":1.98},{"q":11.4,"v":1.995},{"q":11.6,"v":1.99},{"q":11.9,"v":2.0},{"q":12.1,"v":2.01},{"q":12.4,"v":2.02},{"q":12.7,"v":2.01},{"q":13.0,"v":2.02},{"q":13.3,"v":2.01},{"q":13.6,"v":2.0},{"q":13.9,"v":2.0},{"q":14.2,"v":1.995},{"q":14.5,"v":2.0},{"q":14.8,"v":2.01},{"q":15.0,"v":2.0}],
"dNS":[{"q":0.68,"v":1.08},{"q":0.83,"v":1.1},{"q":0.98,"v":1.12},{"q":1.1,"v":1.17},{"q":1.21,"v":1.23},{"q":1.32,"v":1.3},{"q":1.44,"v":1.39},{"q":1.55,"v":1.48},{"q":1.67,"v":1.57},{"q":1.78,"v":1.63},{"q":1.89,"v":1.68},{"q":2.0,"v":1.72},{"q":2.12,"v":1.74},{"q":2.24,"v":1.76},{"q":2.35,"v":1.79},{"q":2.45,"v":1.86},{"q":2.55,"v":1.93},{"q":2.64,"v":2.0},{"q":2.73,"v":2.04},{"q":2.82,"v":2.03},{"q":2.95,"v":1.97},{"q":3.03,"v":1.95},{"q":3.1,"v":1.95},{"q":3.25,"v":1.97},{"q":3.41,"v":1.99},{"q":3.6,"v":2.03},{"q":3.79,"v":2.06},{"q":3.98,"v":2.09},{"q":4.17,"v":2.12},{"q":4.35,"v":2.15},{"q":4.52,"v":2.16},{"q":4.65,"v":2.15},{"q":4.77,"v":2.13},{"q":4.93,"v":2.08},{"q":5.08,"v":2.03},{"q":5.23,"v":1.98},{"q":5.38,"v":1.945},{"q":5.53,"v":1.92},{"q":5.68,"v":1.91},{"q":5.9,"v":1.895},{"q":6.2,"v":1.91},{"q":6.65,"v":1.93},{"q":6.9,"v":1.98},{"q":7.1,"v":2.02},{"q":7.3,"v":2.045},{"q":7.5,"v":2.05},{"q":7.9,"v":2.02},{"q":8.3,"v":1.99},{"q":8.8,"v":1.98},{"q":9.2,"v":1.99},{"q":9.7,"v":2.0},{"q":10.3,"v":1.985},{"q":10.8,"v":1.97},{"q":11.3,"v":1.98},{"q":11.8,"v":2.0},{"q":12.3,"v":2.01},{"q":12.7,"v":2.01},{"q":13.3,"v":2.005},{"q":13.9,"v":1.995},{"q":14.5,"v":1.99},{"q":15.0,"v":1.985}],
"dXE":[{"q":0.53,"v":0.05},{"q":0.68,"v":0.07},{"q":0.83,"v":0.09},{"q":0.98,"v":0.12},{"q":1.1,"v":0.18},{"q":1.21,"v":0.27},{"q":1.33,"v":0.4},{"q":1.44,"v":0.55},{"q":1.52,"v":0.61},{"q":1.59,"v":0.65},{"q":1.67,"v":0.7},{"q":1.74,"v":0.75},{"q":1.82,"v":0.8},{"q":1.89,"v":0.83},{"q":1.97,"v":0.86},{"q":2.05,"v":0.89},{"q":2.12,"v":0.9},{"q":2.2,"v":0.915},{"q":2.28,"v":0.9},{"q":2.35,"v":0.88},{"q":2.43,"v":0.84},{"q":2.5,"v":0.8},{"q":2.6,"v":0.785},{"q":2.7,"v":0.78},{"q":2.8,"v":0.77},{"q":2.88,"v":0.77},{"q":3.0,"v":0.78},{"q":3.1,"v":0.8},{"q":3.25,"v":0.83},{"q":3.41,"v":0.86},{"q":3.56,"v":0.92},{"q":3.71,"v":0.98},{"q":3.87,"v":1.06},{"q":4.02,"v":1.14},{"q":4.14,"v":1.19},{"q":4.24,"v":1.23},{"q":4.32,"v":1.25},{"q":4.39,"v":1.27},{"q":4.47,"v":1.26},{"q":4.55,"v":1.24},{"q":4.65,"v":1.19},{"q":4.77,"v":1.13},{"q":4.88,"v":1.06},{"q":5.0,"v":1.0},{"q":5.12,"v":0.95},{"q":5.23,"v":0.915},{"q":5.34,"v":0.9},{"q":5.45,"v":0.89},{"q":5.6,"v":0.895},{"q":5.75,"v":0.9},{"q":5.98,"v":0.91},{"q":6.15,"v":0.93},{"q":6.3,"v":0.94},{"q":6.5,"v":0.96},{"q":6.7,"v":0.97},{"q":6.9,"v":1.0},{"q":7.1,"v":1.01},{"q":7.3,"v":1.03},{"q":7.5,"v":1.04},{"q":7.8,"v":1.045},{"q":8.1,"v":1.04},{"q":8.3,"v":1.03},{"q":8.5,"v":1.035},{"q":8.7,"v":1.03},{"q":8.9,"v":1.02},{"q":9.1,"v":1.03},{"q":9.3,"v":1.02},{"q":9.5,"v":1.02},{"q":9.6,"v":1.03},{"q":9.8,"v":1.0},{"q":10.0,"v":0.99},{"q":10.2,"v":0.98},{"q":10.4,"v":0.975},{"q":10.6,"v":0.97},{"q":10.8,"v":0.96},{"q":11.0,"v":0.955},{"q":11.2,"v":0.96},{"q":11.4,"v":0.97},{"q":11.6,"v":0.985},{"q":11.8,"v":1.0},{"q":12.0,"v":1.01},{"q":12.2,"v":1.02},{"q":12.4,"v":1.02},{"q":12.6,"v":1.04},{"q":12.7,"v":1.05},{"q":12.9,"v":1.04},{"q":13.1,"v":1.03},{"q":13.3,"v":1.02},{"q":13.5,"v":1.01},{"q":13.7,"v":0.99},{"q":13.9,"v":0.98},{"q":14.1,"v":0.97},{"q":14.3,"v":0.96},{"q":14.5,"v":0.965},{"q":14.7,"v":0.97},{"q":14.9,"v":0.98},{"q":15.0,"v":0.97}],
"dXS":[{"q":0.68,"v":0.01},{"q":0.76,"v":0.04},{"q":0.83,"v":0.05},{"q":0.95,"v":0.08},{"q":1.06,"v":0.1},{"q":1.17,"v":0.17},{"q":1.29,"v":0.27},{"q":1.4,"v":0.4},{"q":1.52,"v":0.53},{"q":1.63,"v":0.65},{"q":1.74,"v":0.75},{"q":1.84,"v":0.83},{"q":1.94,"v":0.9},{"q":2.03,"v":0.95},{"q":2.11,"v":0.98},{"q":2.2,"v":0.99},{"q":2.28,"v":0.97},{"q":2.35,"v":0.93},{"q":2.42,"v":0.88},{"q":2.5,"v":0.83},{"q":2.6,"v":0.8},{"q":2.7,"v":0.78},{"q":2.85,"v":0.78},{"q":3.0,"v":0.795},{"q":3.18,"v":0.83},{"q":3.33,"v":0.86},{"q":3.48,"v":0.9},{"q":3.64,"v":0.96},{"q":3.79,"v":1.03},{"q":3.94,"v":1.1},{"q":4.09,"v":1.18},{"q":4.2,"v":1.22},{"q":4.32,"v":1.25},{"q":4.44,"v":1.27},{"q":4.53,"v":1.25},{"q":4.62,"v":1.22},{"q":4.73,"v":1.16},{"q":4.85,"v":1.09},{"q":4.96,"v":1.02},{"q":5.08,"v":0.965},{"q":5.2,"v":0.93},{"q":5.3,"v":0.9},{"q":5.45,"v":0.89},{"q":5.53,"v":0.89},{"q":5.83,"v":0.905},{"q":6.36,"v":0.925},{"q":6.9,"v":0.99},{"q":7.5,"v":1.04},{"q":8.0,"v":1.035},{"q":8.7,"v":1.015},{"q":9.4,"v":1.005},{"q":10.0,"v":1.0},{"q":10.8,"v":0.96},{"q":11.5,"v":0.99},{"q":12.1,"v":1.02},{"q":12.6,"v":1.02},{"q":13.0,"v":1.015},{"q":13.5,"v":0.995},{"q":13.9,"v":0.985},{"q":14.5,"v":0.985},{"q":15.0,"v":1.0}]
},
"resolve":{"scale":{"color":"independent"},"legend":{"color":"independent"}},
"spacing":17,
"vconcat":[
{"hconcat":[
{"width":329,"height":329,
"layer":[
{"data":{"name":"aNE"},"mark":{"type":"line","strokeWidth":2.4,"interpolate":"monotone"},"encoding":{
"x":{"field":"q","type":"quantitative","scale":{"domain":[0,25],"nice":false,"zero":false},"axis":{"orient":"bottom","values":[0,5,10,15,20,25],"ticks":false,"labelFontSize":14,"labelPadding":5,"labelFlush":false,"title":"Q (Å⁻¹)","titleFontSize":16,"titleFontWeight":"normal","titlePadding":10}},
"y":{"field":"v","type":"quantitative","scale":{"domain":[0,2.5],"nice":false,"zero":false},"axis":{"orient":"left","values":[0,1,2],"ticks":false,"labelFontSize":14,"labelPadding":5,"labelFlush":false,"title":"S(Q)","titleFontStyle":"italic","titleFontSize":16,"titleFontWeight":"normal","titlePadding":12}},
"color":{"datum":"Experimental data","type":"nominal","scale":{"domain":["Experimental data","DF–MD simulation"],"range":["#f01e1e","#3250f0"]},"legend":{"title":null,"orient":"none","legendX":133,"legendY":254}}}},
{"data":{"name":"aXE"},"mark":{"type":"line","strokeWidth":2.4,"interpolate":"monotone"},"encoding":{
"x":{"field":"q","type":"quantitative","scale":{"domain":[0,25],"nice":false,"zero":false},"axis":{"orient":"bottom","offset":-8,"values":[0,5,10,15,20,25],"labels":false,"domain":false,"ticks":true,"tickSize":8,"title":null}},
"y":{"field":"v","type":"quantitative","scale":{"domain":[0,2.5],"nice":false,"zero":false},"axis":{"orient":"left","offset":-8,"values":[0,1,2],"labels":false,"domain":false,"ticks":true,"tickSize":8,"title":null}},
"color":{"datum":"Experimental data","type":"nominal"}}},
{"data":{"name":"aNS"},"mark":{"type":"line","strokeWidth":2.4,"interpolate":"monotone"},"encoding":{
"x":{"field":"q","type":"quantitative","scale":{"domain":[0,25],"nice":false,"zero":false},"axis":{"orient":"bottom","offset":-4,"values":[1,2,3,4,6,7,8,9,11,12,13,14,16,17,18,19,21,22,23,24],"labels":false,"domain":false,"ticks":true,"tickSize":4,"title":null}},
"y":{"field":"v","type":"quantitative","scale":{"domain":[0,2.5],"nice":false,"zero":false},"axis":{"orient":"left","offset":-4,"values":[0.5,1.5],"labels":false,"domain":false,"ticks":true,"tickSize":4,"title":null}},
"color":{"datum":"DF–MD simulation","type":"nominal"}}},
{"data":{"name":"aXS"},"mark":{"type":"line","strokeWidth":2.4,"interpolate":"monotone"},"encoding":{
"x":{"field":"q","type":"quantitative","axis":null},"y":{"field":"v","type":"quantitative","axis":null},"color":{"datum":"DF–MD simulation","type":"nominal"}}},
{"data":{"values":[{}]},"mark":{"type":"text","align":"right","baseline":"alphabetic","fontSize":16},"encoding":{"x":{"datum":24.57,"type":"quantitative","axis":null},"y":{"datum":2.125,"type":"quantitative","axis":null},"text":{"value":"Neutron"}}},
{"data":{"values":[{}]},"mark":{"type":"text","align":"right","baseline":"alphabetic","fontSize":16},"encoding":{"x":{"datum":24.57,"type":"quantitative","axis":null},"y":{"datum":1.145,"type":"quantitative","axis":null},"text":{"value":"X-ray"}}},
{"data":{"values":[{}]},"mark":{"type":"text","align":"left","baseline":"alphabetic","fontSize":19,"fontWeight":"bold"},"encoding":{"x":{"datum":-3.65,"type":"quantitative","axis":null},"y":{"datum":2.826,"type":"quantitative","axis":null},"text":{"value":"a"}}},
{"data":{"values":[{}]},"mark":{"type":"text","align":"right","baseline":"alphabetic","fontSize":17,"fontStyle":"italic"},"encoding":{"x":{"datum":9.88,"type":"quantitative","axis":null},"y":{"datum":2.568,"type":"quantitative","axis":null},"text":{"value":"g"}}},
{"data":{"values":[{}]},"mark":{"type":"text","align":"left","baseline":"alphabetic","fontSize":17},"encoding":{"x":{"datum":9.88,"type":"quantitative","axis":null},"y":{"datum":2.568,"type":"quantitative","axis":null},"text":{"value":"-MgSiO₃"}}}
],
"resolve":{"axis":{"x":"independent","y":"independent"}}},
{"width":329,"height":329,
"layer":[
{"data":{"name":"bNE"},"mark":{"type":"line","strokeWidth":2.4,"interpolate":"monotone"},"encoding":{
"x":{"field":"q","type":"quantitative","scale":{"domain":[0,25],"nice":false,"zero":false},"axis":{"orient":"bottom","values":[0,5,10,15,20,25],"ticks":false,"labelFontSize":14,"labelPadding":5,"labelFlush":false,"title":"Q (Å⁻¹)","titleFontSize":16,"titleFontWeight":"normal","titlePadding":10}},
"y":{"field":"v","type":"quantitative","scale":{"domain":[0,2.5],"nice":false,"zero":false},"axis":{"orient":"left","values":[0,1,2],"ticks":false,"labelFontSize":14,"labelPadding":5,"labelFlush":false,"title":"S(Q)","titleFontStyle":"italic","titleFontSize":16,"titleFontWeight":"normal","titlePadding":12}},
"color":{"datum":"Experimental data","type":"nominal","scale":{"domain":["Experimental data","DF–MD simulation"],"range":["#f01e1e","#3250f0"]},"legend":{"title":null,"orient":"none","legendX":133,"legendY":254}}}},
{"data":{"name":"bXE"},"mark":{"type":"line","strokeWidth":2.4,"interpolate":"monotone"},"encoding":{
"x":{"field":"q","type":"quantitative","scale":{"domain":[0,25],"nice":false,"zero":false},"axis":{"orient":"bottom","offset":-8,"values":[0,5,10,15,20,25],"labels":false,"domain":false,"ticks":true,"tickSize":8,"title":null}},
"y":{"field":"v","type":"quantitative","scale":{"domain":[0,2.5],"nice":false,"zero":false},"axis":{"orient":"left","offset":-8,"values":[0,1,2],"labels":false,"domain":false,"ticks":true,"tickSize":8,"title":null}},
"color":{"datum":"Experimental data","type":"nominal"}}},
{"data":{"name":"bNS"},"mark":{"type":"line","strokeWidth":2.4,"interpolate":"monotone"},"encoding":{
"x":{"field":"q","type":"quantitative","scale":{"domain":[0,25],"nice":false,"zero":false},"axis":{"orient":"bottom","offset":-4,"values":[1,2,3,4,6,7,8,9,11,12,13,14,16,17,18,19,21,22,23,24],"labels":false,"domain":false,"ticks":true,"tickSize":4,"title":null}},
"y":{"field":"v","type":"quantitative","scale":{"domain":[0,2.5],"nice":false,"zero":false},"axis":{"orient":"left","offset":-4,"values":[0.5,1.5],"labels":false,"domain":false,"ticks":true,"tickSize":4,"title":null}},
"color":{"datum":"DF–MD simulation","type":"nominal"}}},
{"data":{"name":"bXS"},"mark":{"type":"line","strokeWidth":2.4,"interpolate":"monotone"},"encoding":{
"x":{"field":"q","type":"quantitative","axis":null},"y":{"field":"v","type":"quantitative","axis":null},"color":{"datum":"DF–MD simulation","type":"nominal"}}},
{"data":{"values":[{}]},"mark":{"type":"text","align":"right","baseline":"alphabetic","fontSize":16},"encoding":{"x":{"datum":24.49,"type":"quantitative","axis":null},"y":{"datum":2.125,"type":"quantitative","axis":null},"text":{"value":"Neutron"}}},
{"data":{"values":[{}]},"mark":{"type":"text","align":"right","baseline":"alphabetic","fontSize":16},"encoding":{"x":{"datum":24.49,"type":"quantitative","axis":null},"y":{"datum":1.145,"type":"quantitative","axis":null},"text":{"value":"X-ray"}}},
{"data":{"values":[{}]},"mark":{"type":"text","align":"left","baseline":"alphabetic","fontSize":19,"fontWeight":"bold"},"encoding":{"x":{"datum":-3.78,"type":"quantitative","axis":null},"y":{"datum":2.826,"type":"quantitative","axis":null},"text":{"value":"b"}}},
{"data":{"values":[{}]},"mark":{"type":"text","align":"right","baseline":"alphabetic","fontSize":17,"fontStyle":"italic"},"encoding":{"x":{"datum":9.68,"type":"quantitative","axis":null},"y":{"datum":2.568,"type":"quantitative","axis":null},"text":{"value":"g"}}},
{"data":{"values":[{}]},"mark":{"type":"text","align":"left","baseline":"alphabetic","fontSize":17},"encoding":{"x":{"datum":9.68,"type":"quantitative","axis":null},"y":{"datum":2.568,"type":"quantitative","axis":null},"text":{"value":"-Mg₂SiO₄"}}}
],
"resolve":{"axis":{"x":"independent","y":"independent"}}}
],"spacing":15,"resolve":{"scale":{"color":"independent"},"legend":{"color":"independent"}}},
{"hconcat":[
{"width":331,"height":332,
"layer":[
{"data":{"name":"cNE"},"mark":{"type":"line","strokeWidth":2.4,"interpolate":"monotone"},"encoding":{
"x":{"field":"q","type":"quantitative","scale":{"domain":[0,15],"nice":false,"zero":false},"axis":{"orient":"bottom","values":[0,5,10,15],"ticks":false,"labelFontSize":14,"labelPadding":5,"labelFlush":false,"title":"Q (Å⁻¹)","titleFontSize":16,"titleFontWeight":"normal","titlePadding":10}},
"y":{"field":"v","type":"quantitative","scale":{"domain":[0,2.5],"nice":false,"zero":false},"axis":{"orient":"left","values":[0,1,2],"ticks":false,"labelFontSize":14,"labelPadding":5,"labelFlush":false,"title":"S(Q)","titleFontStyle":"italic","titleFontSize":16,"titleFontWeight":"normal","titlePadding":12}},
"color":{"datum":"Experimental data","type":"nominal","scale":{"domain":["Experimental data","DF–MD simulation"],"range":["#f01e1e","#3250f0"]},"legend":{"title":null,"orient":"none","legendX":135,"legendY":256}}}},
{"data":{"name":"cXE"},"mark":{"type":"line","strokeWidth":2.4,"interpolate":"monotone"},"encoding":{
"x":{"field":"q","type":"quantitative","scale":{"domain":[0,15],"nice":false,"zero":false},"axis":{"orient":"bottom","offset":-8,"values":[0,5,10,15],"labels":false,"domain":false,"ticks":true,"tickSize":8,"title":null}},
"y":{"field":"v","type":"quantitative","scale":{"domain":[0,2.5],"nice":false,"zero":false},"axis":{"orient":"left","offset":-8,"values":[0,1,2],"labels":false,"domain":false,"ticks":true,"tickSize":8,"title":null}},
"color":{"datum":"Experimental data","type":"nominal"}}},
{"data":{"name":"cNS"},"mark":{"type":"line","strokeWidth":2.4,"interpolate":"monotone"},"encoding":{
"x":{"field":"q","type":"quantitative","scale":{"domain":[0,15],"nice":false,"zero":false},"axis":{"orient":"bottom","offset":-4,"values":[1,2,3,4,6,7,8,9,11,12,13,14],"labels":false,"domain":false,"ticks":true,"tickSize":4,"title":null}},
"y":{"field":"v","type":"quantitative","scale":{"domain":[0,2.5],"nice":false,"zero":false},"axis":{"orient":"left","offset":-4,"values":[0.5,1.5],"labels":false,"domain":false,"ticks":true,"tickSize":4,"title":null}},
"color":{"datum":"DF–MD simulation","type":"nominal"}}},
{"data":{"name":"cXS"},"mark":{"type":"line","strokeWidth":2.4,"interpolate":"monotone"},"encoding":{
"x":{"field":"q","type":"quantitative","axis":null},"y":{"field":"v","type":"quantitative","axis":null},"color":{"datum":"DF–MD simulation","type":"nominal"}}},
{"data":{"values":[{}]},"mark":{"type":"text","align":"right","baseline":"alphabetic","fontSize":16},"encoding":{"x":{"datum":14.73,"type":"quantitative","axis":null},"y":{"datum":2.127,"type":"quantitative","axis":null},"text":{"value":"Neutron"}}},
{"data":{"values":[{}]},"mark":{"type":"text","align":"right","baseline":"alphabetic","fontSize":16},"encoding":{"x":{"datum":14.73,"type":"quantitative","axis":null},"y":{"datum":1.148,"type":"quantitative","axis":null},"text":{"value":"X-ray"}}},
{"data":{"values":[{}]},"mark":{"type":"text","align":"left","baseline":"alphabetic","fontSize":19,"fontWeight":"bold"},"encoding":{"x":{"datum":-2.22,"type":"quantitative","axis":null},"y":{"datum":2.834,"type":"quantitative","axis":null},"text":{"value":"c"}}},
{"data":{"values":[{}]},"mark":{"type":"text","align":"right","baseline":"alphabetic","fontSize":17,"fontStyle":"italic"},"encoding":{"x":{"datum":5.61,"type":"quantitative","axis":null},"y":{"datum":2.568,"type":"quantitative","axis":null},"text":{"value":"l"}}},
{"data":{"values":[{}]},"mark":{"type":"text","align":"left","baseline":"alphabetic","fontSize":17},"encoding":{"x":{"datum":5.61,"type":"quantitative","axis":null},"y":{"datum":2.568,"type":"quantitative","axis":null},"text":{"value":"-MgSiO₃"}}}
],
"resolve":{"axis":{"x":"independent","y":"independent"}}},
{"width":330,"height":332,
"layer":[
{"data":{"name":"dNE"},"mark":{"type":"line","strokeWidth":2.4,"interpolate":"monotone"},"encoding":{
"x":{"field":"q","type":"quantitative","scale":{"domain":[0,15],"nice":false,"zero":false},"axis":{"orient":"bottom","values":[0,5,10,15],"ticks":false,"labelFontSize":14,"labelPadding":5,"labelFlush":false,"title":"Q (Å⁻¹)","titleFontSize":16,"titleFontWeight":"normal","titlePadding":10}},
"y":{"field":"v","type":"quantitative","scale":{"domain":[0,2.5],"nice":false,"zero":false},"axis":{"orient":"left","values":[0,1,2],"ticks":false,"labelFontSize":14,"labelPadding":5,"labelFlush":false,"title":"S(Q)","titleFontStyle":"italic","titleFontSize":16,"titleFontWeight":"normal","titlePadding":12}},
"color":{"datum":"Experimental data","type":"nominal","scale":{"domain":["Experimental data","DF–MD simulation"],"range":["#f01e1e","#3250f0"]},"legend":{"title":null,"orient":"none","legendX":134,"legendY":256}}}},
{"data":{"name":"dXE"},"mark":{"type":"line","strokeWidth":2.4,"interpolate":"monotone"},"encoding":{
"x":{"field":"q","type":"quantitative","scale":{"domain":[0,15],"nice":false,"zero":false},"axis":{"orient":"bottom","offset":-8,"values":[0,5,10,15],"labels":false,"domain":false,"ticks":true,"tickSize":8,"title":null}},
"y":{"field":"v","type":"quantitative","scale":{"domain":[0,2.5],"nice":false,"zero":false},"axis":{"orient":"left","offset":-8,"values":[0,1,2],"labels":false,"domain":false,"ticks":true,"tickSize":8,"title":null}},
"color":{"datum":"Experimental data","type":"nominal"}}},
{"data":{"name":"dNS"},"mark":{"type":"line","strokeWidth":2.4,"interpolate":"monotone"},"encoding":{
"x":{"field":"q","type":"quantitative","scale":{"domain":[0,15],"nice":false,"zero":false},"axis":{"orient":"bottom","offset":-4,"values":[1,2,3,4,6,7,8,9,11,12,13,14],"labels":false,"domain":false,"ticks":true,"tickSize":4,"title":null}},
"y":{"field":"v","type":"quantitative","scale":{"domain":[0,2.5],"nice":false,"zero":false},"axis":{"orient":"left","offset":-4,"values":[0.5,1.5],"labels":false,"domain":false,"ticks":true,"tickSize":4,"title":null}},
"color":{"datum":"DF–MD simulation","type":"nominal"}}},
{"data":{"name":"dXS"},"mark":{"type":"line","strokeWidth":2.4,"interpolate":"monotone"},"encoding":{
"x":{"field":"q","type":"quantitative","axis":null},"y":{"field":"v","type":"quantitative","axis":null},"color":{"datum":"DF–MD simulation","type":"nominal"}}},
{"data":{"values":[{}]},"mark":{"type":"text","align":"right","baseline":"alphabetic","fontSize":16},"encoding":{"x":{"datum":14.76,"type":"quantitative","axis":null},"y":{"datum":2.127,"type":"quantitative","axis":null},"text":{"value":"Neutron"}}},
{"data":{"values":[{}]},"mark":{"type":"text","align":"right","baseline":"alphabetic","fontSize":16},"encoding":{"x":{"datum":14.76,"type":"quantitative","axis":null},"y":{"datum":1.148,"type":"quantitative","axis":null},"text":{"value":"X-ray"}}},
{"data":{"values":[{}]},"mark":{"type":"text","align":"left","baseline":"alphabetic","fontSize":19,"fontWeight":"bold"},"encoding":{"x":{"datum":-2.44,"type":"quantitative","axis":null},"y":{"datum":2.834,"type":"quantitative","axis":null},"text":{"value":"d"}}},
{"data":{"values":[{}]},"mark":{"type":"text","align":"right","baseline":"alphabetic","fontSize":17,"fontStyle":"italic"},"encoding":{"x":{"datum":5.43,"type":"quantitative","axis":null},"y":{"datum":2.568,"type":"quantitative","axis":null},"text":{"value":"l"}}},
{"data":{"values":[{}]},"mark":{"type":"text","align":"left","baseline":"alphabetic","fontSize":17},"encoding":{"x":{"datum":5.43,"type":"quantitative","axis":null},"y":{"datum":2.568,"type":"quantitative","axis":null},"text":{"value":"-Mg₂SiO₄"}}}
],
"resolve":{"axis":{"x":"independent","y":"independent"}}}
],"spacing":16,"resolve":{"scale":{"color":"independent"},"legend":{"color":"independent"}}}
]
}
